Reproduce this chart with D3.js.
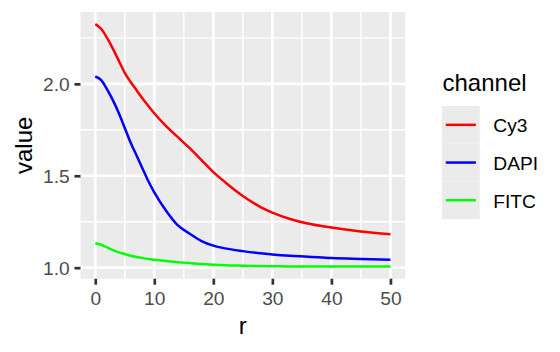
<!DOCTYPE html>
<html>
<head>
<meta charset="utf-8">
<script src="https://cdn.jsdelivr.net/npm/d3@7"></script>
<style>
  html, body { margin: 0; padding: 0; background: #fff; }
  svg { display: block; font-family: "Liberation Sans", Arial, sans-serif; }
</style>
</head>
<body>
<svg id="chart" width="560" height="352"></svg>
<script>
const rValues = [0,1,2,3,4,5,6,7,8,9,10,12,14,16,18,20,22,25,28,30,33,36,40,45,50];
const channels = ["Cy3", "DAPI", "FITC"];
const cy3 = [2.325,2.30,2.25,2.19,2.125,2.06,2.01,1.965,1.92,1.88,1.84,1.77,1.71,1.65,1.585,1.52,1.465,1.39,1.33,1.30,1.265,1.24,1.218,1.197,1.182];
const dapi = [2.04,2.02,1.97,1.91,1.84,1.76,1.68,1.61,1.54,1.47,1.41,1.31,1.23,1.185,1.145,1.12,1.105,1.09,1.078,1.072,1.065,1.06,1.052,1.047,1.043];
const fitc = [1.133,1.125,1.11,1.095,1.083,1.074,1.065,1.058,1.052,1.047,1.043,1.036,1.03,1.025,1.02,1.016,1.013,1.011,1.009,1.008,1.007,1.007,1.006,1.006,1.006];
const colors = ["#FF0000", "#0000FF", "#00FF00"];
const xTicks = [0,10,20,30,40,50];
const xMinor = [5,15,25,35,45];
const yTicks = [1.0,1.5,2.0];
const yMinor = [1.25,1.75,2.25];

const series = [cy3, dapi, fitc].map((vals, i) => ({
  name: channels[i], color: colors[i],
  points: rValues.map((r, j) => ({r, v: vals[j]}))
}));

const svg = d3.select("#chart");
const panel = {left: 80.5, right: 405.2, top: 12, bottom: 278.7};

const xExt = d3.extent(rValues);
const xPad = (xExt[1] - xExt[0]) * 0.05;
const x = d3.scaleLinear().domain([xExt[0] - xPad, xExt[1] + xPad]).range([panel.left, panel.right]);
const allV = [].concat(cy3, dapi, fitc);
const yExt = d3.extent(allV);
const yPad = (yExt[1] - yExt[0]) * 0.05;
const y = d3.scaleLinear().domain([yExt[0] - yPad, yExt[1] + yPad]).range([panel.bottom, panel.top]);

// panel background
svg.append("rect").attr("x", panel.left).attr("y", panel.top)
  .attr("width", panel.right - panel.left).attr("height", panel.bottom - panel.top)
  .attr("fill", "#EBEBEB");

const grid = svg.append("g");
// minor grid
grid.selectAll(".xm").data(xMinor).join("line")
  .attr("x1", d => x(d)).attr("x2", d => x(d)).attr("y1", panel.top).attr("y2", panel.bottom)
  .attr("stroke", "#fff").attr("stroke-width", 1.4);
grid.selectAll(".ym").data(yMinor).join("line")
  .attr("y1", d => y(d)).attr("y2", d => y(d)).attr("x1", panel.left).attr("x2", panel.right)
  .attr("stroke", "#fff").attr("stroke-width", 1.4);
// major grid
grid.selectAll(".xM").data(xTicks).join("line")
  .attr("x1", d => x(d)).attr("x2", d => x(d)).attr("y1", panel.top).attr("y2", panel.bottom)
  .attr("stroke", "#fff").attr("stroke-width", 2.7);
grid.selectAll(".yM").data(yTicks).join("line")
  .attr("y1", d => y(d)).attr("y2", d => y(d)).attr("x1", panel.left).attr("x2", panel.right)
  .attr("stroke", "#fff").attr("stroke-width", 2.7);

// lines
const line = d3.line().x(d => x(d.r)).y(d => y(d.v)).curve(d3.curveMonotoneX);
svg.append("g").selectAll("path").data(series).join("path")
  .attr("d", d => line(d.points))
  .attr("fill", "none").attr("stroke", d => d.color).attr("stroke-width", 2.5)
  .attr("stroke-linejoin", "round").attr("stroke-linecap", "butt");

// axes
const xAxis = d3.axisBottom(x).tickValues(xTicks).tickFormat(d3.format("d")).tickSize(6).tickPadding(4.8);
const gx = svg.append("g").attr("transform", `translate(0,${panel.bottom})`).call(xAxis);
gx.select(".domain").remove();
gx.selectAll(".tick line").attr("stroke", "#333333").attr("stroke-width", 2.7);
gx.selectAll(".tick text").attr("fill", "#4D4D4D").attr("font-size", 19.2)
  .attr("font-family", "Liberation Sans, Arial, sans-serif").attr("dy", null).attr("y", 26.3);

const yAxis = d3.axisLeft(y).tickValues(yTicks).tickFormat(d3.format(".1f")).tickSize(6).tickPadding(4.8);
const gy = svg.append("g").attr("transform", `translate(${panel.left},0)`).call(yAxis);
gy.select(".domain").remove();
gy.selectAll(".tick line").attr("stroke", "#333333").attr("stroke-width", 2.7);
gy.selectAll(".tick text").attr("fill", "#4D4D4D").attr("font-size", 19.2)
  .attr("font-family", "Liberation Sans, Arial, sans-serif").attr("dy", "0.35em");

// axis titles
svg.append("text").attr("x", (panel.left + panel.right) / 2).attr("y", 334)
  .attr("text-anchor", "middle").attr("font-size", 24).attr("fill", "#000").text("r");
svg.append("text").attr("transform", `translate(31.5,${(panel.top + panel.bottom) / 2}) rotate(-90)`)
  .attr("text-anchor", "middle").attr("font-size", 24).attr("fill", "#000").text("value");

// legend
const leg = svg.append("g");
leg.append("text").attr("x", 442.5).attr("y", 90.7).attr("font-size", 24).attr("fill", "#000").text("channel");
const keyTop = 106, keyH = 37.7, keyX = 442, keyW = 37.7;
const items = leg.selectAll(".item").data(series).join("g")
  .attr("transform", (d, i) => `translate(0,${keyTop + i * keyH})`);
items.append("rect").attr("x", keyX).attr("y", 0).attr("width", keyW).attr("height", keyH).attr("fill", "#EBEBEB");
items.append("line").attr("x1", keyX + 3.8).attr("x2", keyX + keyW - 3.8)
  .attr("y1", keyH / 2).attr("y2", keyH / 2).attr("stroke", d => d.color).attr("stroke-width", 2.5);
items.append("text").attr("x", 493.3).attr("y", keyH / 2 + 7.5).attr("font-size", 19.2).attr("fill", "#000")
  .text(d => d.name);
</script>
</body>
</html>
